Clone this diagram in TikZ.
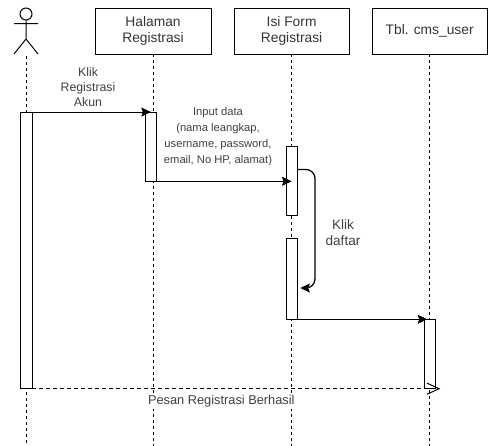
\documentclass[tikz,border=0pt]{standalone}
\usepackage{fontspec}
\setmainfont{Liberation Sans}
\usetikzlibrary{arrows.meta,calc}
\tikzset{
  x=1pt,y=-1pt,
  line width=1.2pt,
  head/.style={draw,rectangle,minimum width=115.5pt,minimum height=46pt,inner sep=0pt,align=center,text=black!80,font=\fontsize{13.8}{16}\selectfont},
  bar/.style={draw,fill=white,rectangle,minimum width=11.5pt,inner sep=0pt,outer sep=0pt},
  life/.style={dashed,dash pattern=on 3pt off 3pt,line width=1pt},
  label/.style={inner sep=0pt,align=center,text=black!75},
  msg/.style={-{Stealth[length=9.5pt,width=9pt,inset=1.5pt]}},
  reply/.style={dashed,dash pattern=on 3.5pt off 3.5pt,line width=1pt},
}
\begin{document}
\begin{tikzpicture}
\useasboundingbox (0,0) rectangle (493,446);
% header boxes
\node[head] (hal) at (153,31.3) {Halaman\\Registrasi};
\node[head] (frm) at (291.6,31.3) {Isi Form\\Registrasi};
\node[head] (tbl) at (429.7,31.3) {Tbl. cms\_user};
% actor
\node[draw,circle,minimum size=12pt,inner sep=0pt,line width=1pt] (ahead) at (26,14) {};
\coordinate (ahip) at (26,39);
\coordinate (aarmL) at (14,23.7);
\coordinate (aarmR) at (38,23.7);
\coordinate (alegL) at (14,54);
\coordinate (alegR) at (38,54);
\coordinate (afoot) at (26,56);
\draw[line width=1pt] (ahead.south) -- (ahip) (aarmL) -- (aarmR) (alegL) -- (ahip) -- (alegR);
% lifeline ends
\coordinate (endA) at (26,446);
\coordinate (endH) at (153,446);
\coordinate (endF) at (291.6,446);
\coordinate (endT) at (429.7,446);
\draw[life] (afoot) -- (endA);
\draw[life] (hal.south) -- (endH);
\draw[life] (frm.south) -- (endF);
\draw[life] (tbl.south) -- (endT);
% activation bars
\node[bar,minimum height=276.7pt] (barA) at (26.3,250.35) {};
\node[bar,minimum height=69.3pt] (barH) at (150.8,146.65) {};
\node[bar,minimum height=69pt] (barF) at (291.5,181.2) {};
\node[bar,minimum height=80.6pt] (barG) at (291.5,279) {};
\node[bar,minimum height=69.4pt] (barT) at (429.7,354) {};
% messages
\draw[msg] (barA.north east) -- (barH.north);
\draw[msg] (barH.south east) -- (barH.south east -| barF);
\draw[msg] (barG.south east) -- ([xshift=-2.5pt]barT.north);
\coordinate (loopA) at (barF.east |- 0,169.5);
\coordinate (loopB) at (315,169.5);
\coordinate (loopC) at (315,288);
\coordinate (loopD) at (300.3,288);
\draw[msg,line width=1.3pt,rounded corners=9pt] (loopA) -- (loopB) -- (loopC) -- (loopD);
% labels
\node[label,font=\fontsize{12.3}{15}\selectfont] (l1) at (88,87) {Klik\\Registrasi\\Akun};
\node[label,font=\fontsize{11.2}{16}\selectfont] (l2) at (218,137) {Input data\\(nama leangkap,\\username, password,\\email, No HP, alamat)};
\node[label,font=\fontsize{13.6}{16}\selectfont] (l3) at (343,233) {Klik\\daftar};
% return
\coordinate (retEnd) at (440.3,388.7);
\draw[reply,-{Straight Barb[length=12pt,width=11pt]}] (barA.south east) -- (retEnd);
\node[label,fill=white,inner xsep=1pt,inner ysep=2pt,font=\fontsize{12.8}{15}\selectfont] (l4) at (221.3,400.7) {Pesan Registrasi Berhasil};
\end{tikzpicture}
\end{document}
